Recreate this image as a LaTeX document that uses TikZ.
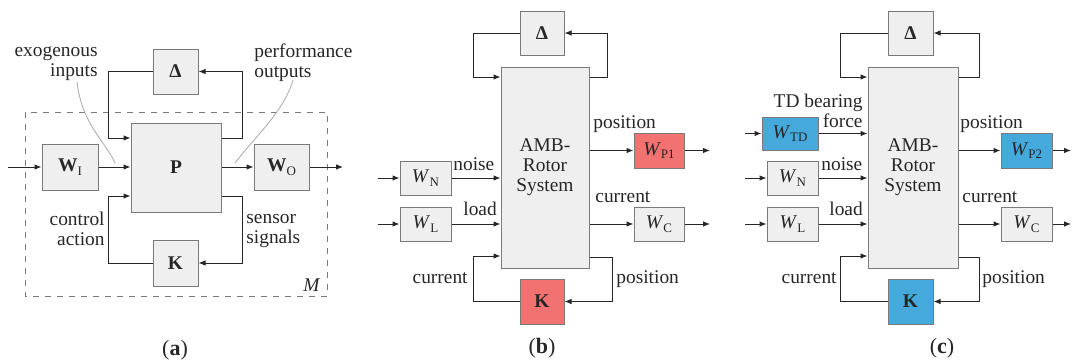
\documentclass[tikz,border=0pt]{standalone}
\usepackage{fontspec}
\setmainfont{Liberation Serif}
\usetikzlibrary{arrows.meta}
\definecolor{ink}{HTML}{262626}
\definecolor{edge}{HTML}{7A7A7A}
\definecolor{shade}{HTML}{EFEFEF}
\definecolor{hot}{HTML}{F27171}
\definecolor{cool}{HTML}{45A9DB}
\definecolor{pale}{HTML}{A8A8A8}
\newcommand{\lowtxt}[1]{\raisebox{-0.4ex}{\fontsize{6.5}{7}\selectfont #1}}

\begin{document}
\begin{tikzpicture}[x=0.5pt, y=-0.5pt,
  font=\fontsize{9.7}{10}\selectfont, >={Latex[length=3.5pt,width=2.8pt]},
  blk/.style={draw=edge, fill=shade, line width=0.5pt, inner sep=0pt, text=ink, align=center},
  hotblk/.style={blk, fill=hot},
  coolblk/.style={blk, fill=cool},
  note/.style={text=ink, inner sep=0pt},
  arr/.style={->, draw=ink, line width=0.5pt},
  pointer/.style={draw=pale, line width=0.4pt},
  tag/.style={text=ink, inner sep=0pt, font=\fontsize{11}{12}\selectfont}]
\useasboundingbox (0,0) rectangle (1072,364);
\node[blk, minimum width=28pt, minimum height=23pt] (WI) at (70,167) {\textbf{W}\lowtxt{I}};
\node[blk, minimum width=45pt, minimum height=44.5pt] (P) at (176,167.5) {\textbf{P}};
\node[blk, minimum width=27.5pt, minimum height=23pt] (WO) at (281.5,167) {\textbf{W}\lowtxt{O}};
\node[blk, minimum width=22.5pt, minimum height=22.5pt] (Da) at (175.5,71.5) {\textbf{Δ}};
\node[blk, minimum width=22.5pt, minimum height=23pt] (Ka) at (175.5,263) {\textbf{K}};
\draw[edge, dashed, line width=0.5pt] (25,112) rectangle (327,296);
\node[note] (M) at (312,285) {\textit{M}};
\coordinate (ain) at (8,167);
\coordinate (aout) at (343,167);
\draw[arr] (ain) -- (WI);
\draw[arr] (WI.east) -- (WI.east -| P.west);
\draw[arr] (P.east |- WO.west) -- (WO.west);
\draw[arr] (WO) -- (aout);
\draw[arr] (P.east |- 0,138) -- (242,138) |- (Da);
\draw[arr] (Da) -| (108,138) -- (P.west |- 0,138);
\draw[arr] (P.east |- 0,196) -- (242,196) |- (Ka);
\draw[arr] (Ka) -| (108,196) -- (P.west |- 0,196);
\node[note, align=right, anchor=east] (exo) at (98,63.5) {exogenous\\inputs};
\node[note, align=left, anchor=west] (perf) at (254,62.5) {performance\\outputs};
\node[note, align=right, anchor=east] (ctrl) at (105,229) {control\\action};
\node[note, align=left, anchor=west] (sens) at (246,231) {sensor\\signals};
\draw[pointer] (77,82) .. controls (82,125) and (106,142) .. (115,163);
\draw[pointer] (293,80) .. controls (284,112) and (252,140) .. (235,163);
\node[tag] (la) at (175,350) {(\textbf{a})};

\node[blk, minimum width=22pt, minimum height=22pt] (Db) at (542,33) {\textbf{Δ}};
\node[blk, minimum width=44pt, minimum height=100.5pt] (AMBb) at (545,167.5) {AMB-\\Rotor\\System};
\node[blk, minimum width=25.5pt, minimum height=17pt] (WNb) at (425.5,178) {\textit{W}\lowtxt{N}};
\node[blk, minimum width=25.5pt, minimum height=17pt] (WLb) at (425.5,224) {\textit{W}\lowtxt{L}};
\node[hotblk, minimum width=25pt, minimum height=17.5pt] (WP1) at (659,150.5) {\textit{W}\lowtxt{P1}};
\node[blk, minimum width=25pt, minimum height=17pt] (WCb) at (659,224) {\textit{W}\lowtxt{C}};
\node[hotblk, minimum width=22pt, minimum height=22.5pt] (Kb) at (542,301.5) {\textbf{K}};
\coordinate (bin1) at (378,178);
\coordinate (bin2) at (378,224);
\coordinate (bout1) at (710,150.5);
\coordinate (bout2) at (710,224);
\draw[arr] (bin1) -- (WNb);
\draw[arr] (bin2) -- (WLb);
\draw[arr] (WNb.east) -- (WNb.east -| AMBb.west);
\draw[arr] (WLb.east) -- (WLb.east -| AMBb.west);
\draw[arr] (AMBb.east |- WP1.west) -- (WP1.west);
\draw[arr] (AMBb.east |- WCb.west) -- (WCb.west);
\draw[arr] (WP1) -- (bout1);
\draw[arr] (WCb) -- (bout2);
\draw[arr] (AMBb.east |- 0,77) -- (607,77) |- (Db);
\draw[arr] (Db) -| (473,77) -- (AMBb.west |- 0,77);
\draw[arr] (AMBb.east |- 0,257) -- (612,257) |- (Kb);
\draw[arr] (Kb) -| (473,256) -- (AMBb.west |- 0,256);
\node[note, anchor=base west] (noiseb) at (453,170) {noise};
\node[note, anchor=base west] (loadb) at (463,215) {load};
\node[note, anchor=base west] (posb) at (593,128) {position};
\node[note, anchor=base west] (curb) at (595,202) {current};
\node[note, anchor=base east] (curKb) at (468,283) {current};
\node[note, anchor=base west] (posKb) at (616,283) {position};
\node[tag] (lb) at (542,348) {(\textbf{b})};

\node[blk, minimum width=22.5pt, minimum height=22pt] (Dc) at (910.5,33) {\textbf{Δ}};
\node[blk, minimum width=45pt, minimum height=100.5pt] (AMBc) at (913,167.5) {AMB-\\Rotor\\System};
\node[coolblk, minimum width=28pt, minimum height=16.5pt] (WTD) at (790,133.5) {\textit{W}\lowtxt{TD}};
\node[blk, minimum width=25.5pt, minimum height=17pt] (WNc) at (792.5,178) {\textit{W}\lowtxt{N}};
\node[blk, minimum width=25.5pt, minimum height=17pt] (WLc) at (792.5,224) {\textit{W}\lowtxt{L}};
\node[coolblk, minimum width=25.5pt, minimum height=17.5pt] (WP2) at (1026.5,150.5) {\textit{W}\lowtxt{P2}};
\node[blk, minimum width=25.5pt, minimum height=17pt] (WCc) at (1026.5,224) {\textit{W}\lowtxt{C}};
\node[coolblk, minimum width=22.5pt, minimum height=22.5pt] (Kc) at (910.5,301.5) {\textbf{K}};
\coordinate (cin0) at (745,133.5);
\coordinate (cin1) at (745,178);
\coordinate (cin2) at (745,224);
\coordinate (cout1) at (1071,150.5);
\coordinate (cout2) at (1071,224);
\draw[arr] (cin0) -- (WTD);
\draw[arr] (cin1) -- (WNc);
\draw[arr] (cin2) -- (WLc);
\draw[arr] (WTD.east) -- (WTD.east -| AMBc.west);
\draw[arr] (WNc.east) -- (WNc.east -| AMBc.west);
\draw[arr] (WLc.east) -- (WLc.east -| AMBc.west);
\draw[arr] (AMBc.east |- WP2.west) -- (WP2.west);
\draw[arr] (AMBc.east |- WCc.west) -- (WCc.west);
\draw[arr] (WP2) -- (cout1);
\draw[arr] (WCc) -- (cout2);
\draw[arr] (AMBc.east |- 0,77) -- (979,77) |- (Dc);
\draw[arr] (Dc) -| (840,77) -- (AMBc.west |- 0,77);
\draw[arr] (AMBc.east |- 0,257) -- (979,257) |- (Kc);
\draw[arr] (Kc) -| (840,256) -- (AMBc.west |- 0,256);
\node[note, align=right, anchor=east] (tdf) at (863,110.5) {TD bearing\\force};
\node[note, anchor=base west] (noisec) at (821,170) {noise};
\node[note, anchor=base west] (loadc) at (829,215) {load};
\node[note, anchor=base west] (posc) at (960,128) {position};
\node[note, anchor=base west] (curc) at (962,202) {current};
\node[note, anchor=base east] (curKc) at (837,283) {current};
\node[note, anchor=base west] (posKc) at (982,283) {position};
\node[tag] (lc) at (942,348) {(\textbf{c})};
\end{tikzpicture}
\end{document}
